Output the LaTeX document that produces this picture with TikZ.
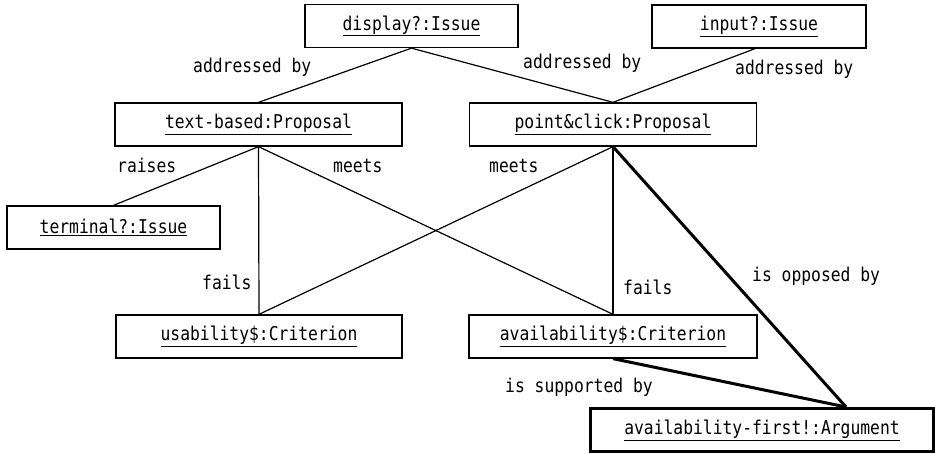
\documentclass[tikz,border=0pt]{standalone}
\usepackage{fontspec}
\usetikzlibrary{calc}
\newfontfamily\objfont[FakeStretch=0.86]{DejaVu Sans Mono}
\begin{document}
\begin{tikzpicture}[x=1pt,y=-1pt,
  obj/.style={draw, line width=1.3pt, minimum height=43pt, inner sep=0pt,
    font=\objfont\fontsize{19}{19}\selectfont},
  keyobj/.style={obj, line width=3pt},
  link/.style={line width=1.2pt},
  strong/.style={line width=3pt},
  lbl/.style={anchor=base west, inner sep=0pt, font=\objfont\fontsize{19}{19}\selectfont}]
\useasboundingbox (0,0) rectangle (935,454);

% objects
\node[obj, minimum width=213pt] (display) at (411.5,26) {\underline{display?:Issue}};
\node[obj, minimum width=214pt] (input) at (759,26.5) {\underline{input?:Issue}};
\node[obj, minimum width=287pt] (text) at (258.5,124.5) {\underline{text-based:Proposal}};
\node[obj, minimum width=287pt] (point) at (613,124.5) {\underline{point\&click:Proposal}};
\node[obj, minimum width=213pt] (terminal) at (113.5,227.5) {\underline{terminal?:Issue}};
\node[obj, minimum width=286pt] (usab) at (259,336.5) {\underline{usability\$:Criterion}};
\node[obj, minimum width=288pt] (avail) at (613,336.5) {\underline{availability\$:Criterion}};
\node[keyobj, minimum width=343pt] (arg) at (762,430) {\underline{availability-first!:Argument}};
\coordinate (inputfoot) at ($(input.south)+(-4,0)$);
\coordinate (argjoin) at ($(arg.north west)+(257,0)$);

% links
\draw[link] (display.south) -- (text.north);
\draw[link] (display.south) -- (point.north);
\draw[link] (inputfoot) -- (point.north);
\draw[link] (text.south) -- (terminal.north);
\draw[link] (text.south) -- (usab.north);
\draw[link] (text.south) -- (avail.north);
\draw[link] (point.south) -- (usab.north);
\draw[link] (point.south) -- (avail.north);
\draw[strong] (point.south) -- (argjoin);
\draw[strong] (avail.south) -- (argjoin);

% link labels
\node[lbl] (l1) at (193,73) {addressed by};
\node[lbl] (l2) at (523,69) {addressed by};
\node[lbl] (l3) at (735,75) {addressed by};
\node[lbl] (l4) at (117,173) {raises};
\node[lbl] (l5) at (333,173) {meets};
\node[lbl] (l6) at (489,173) {meets};
\node[lbl] (l7) at (202,290) {fails};
\node[lbl] (l8) at (623,295) {fails};
\node[lbl] (l9) at (752,282) {is opposed by};
\node[lbl] (l10) at (505,393) {is supported by};
\end{tikzpicture}
\end{document}
